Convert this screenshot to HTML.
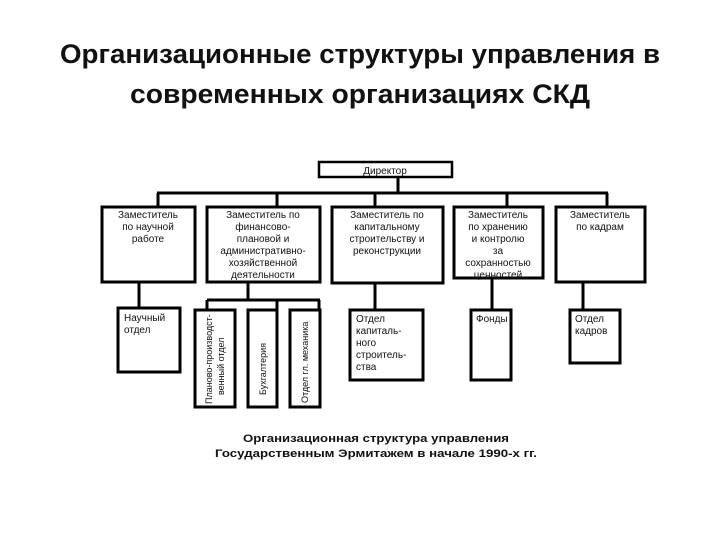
<!DOCTYPE html>
<html><head><meta charset="utf-8"><style>
html,body{margin:0;padding:0;background:#fff;width:720px;height:540px;overflow:hidden}
svg{display:block}
.t{font-family:"Liberation Sans",sans-serif;font-size:10px;fill:#111}
.h{font-family:"Liberation Sans",sans-serif;font-weight:bold;font-size:27px;fill:#111}
.c{font-family:"Liberation Sans",sans-serif;font-weight:bold;font-size:11px;fill:#111}
</style></head><body>
<svg width="720" height="540" viewBox="0 0 720 540">
<text class="h" x="360" y="63" text-anchor="middle" textLength="600" lengthAdjust="spacingAndGlyphs">Организационные структуры управления в</text>
<text class="h" x="360" y="103" text-anchor="middle" textLength="460" lengthAdjust="spacingAndGlyphs">современных организациях СКД</text>
<g fill="none" stroke="#000" stroke-width="3">
<rect x="319" y="162" width="133" height="15" stroke-width="2.5"/>
<line x1="398" y1="177" x2="398" y2="193"/>
<line x1="157" y1="193" x2="608" y2="193"/>
<line x1="158" y1="193" x2="158" y2="207"/>
<line x1="277" y1="193" x2="277" y2="207"/>
<line x1="375" y1="193" x2="375" y2="207"/>
<line x1="507" y1="193" x2="507" y2="207"/>
<line x1="607" y1="193" x2="607" y2="207"/>
<rect x="102" y="207" width="93" height="75"/>
<rect x="207" y="207" width="113" height="75"/>
<rect x="332" y="207" width="111" height="76"/>
<rect x="454" y="207" width="89" height="71"/>
<rect x="556" y="207" width="89" height="75"/>
<line x1="139" y1="282" x2="139" y2="307"/>
<line x1="248" y1="282" x2="248" y2="300"/>
<line x1="207" y1="300" x2="320" y2="300"/>
<line x1="207" y1="300" x2="207" y2="310"/>
<line x1="277" y1="300" x2="277" y2="310"/>
<line x1="319" y1="300" x2="319" y2="310"/>
<line x1="375" y1="283" x2="375" y2="310"/>
<line x1="492" y1="278" x2="492" y2="310"/>
<line x1="583" y1="282" x2="583" y2="310"/>
<rect x="118" y="308" width="62" height="64"/>
<rect x="195" y="310" width="40" height="97"/>
<rect x="248" y="310" width="29" height="97"/>
<rect x="290" y="310" width="30" height="97"/>
<rect x="350" y="310" width="73" height="70"/>
<rect x="471" y="310" width="40" height="70"/>
<rect x="570" y="310" width="50" height="53"/>
</g>
<g class="t" text-anchor="middle">
<text x="385" y="174">Директор</text>
<text x="148" y="218">Заместитель</text><text x="148" y="230">по научной</text><text x="148" y="242">работе</text>
<text x="263" y="218">Заместитель по</text><text x="263" y="230">финансово-</text><text x="263" y="242">плановой и</text><text x="263" y="254">административно-</text><text x="263" y="266">хозяйственной</text><text x="263" y="278">деятельности</text>
<text x="387" y="218">Заместитель по</text><text x="387" y="230">капитальному</text><text x="387" y="242">строительству и</text><text x="387" y="254">реконструкции</text>
<text x="498" y="218">Заместитель</text><text x="498" y="230">по хранению</text><text x="498" y="242">и контролю</text><text x="498" y="254">за</text><text x="498" y="266">сохранностью</text><text x="498" y="278">ценностей</text>
<text x="600" y="218">Заместитель</text><text x="600" y="230">по кадрам</text>
</g>
<g class="t">
<text x="124" y="321">Научный</text><text x="124" y="333">отдел</text>
<text x="356" y="322">Отдел</text><text x="356" y="334">капиталь-</text><text x="356" y="346">ного</text><text x="356" y="358">строитель-</text><text x="356" y="370">ства</text>
<text x="476" y="322">Фонды</text>
<text x="575" y="322">Отдел</text><text x="575" y="334">кадров</text>
<text transform="translate(212,404) rotate(-90)" font-size="9">Планово-производст-</text>
<text transform="translate(224,395) rotate(-90)" font-size="9">венный отдел</text>
<text transform="translate(266,395) rotate(-90)" font-size="9">Бухгалтерия</text>
<text transform="translate(308,403) rotate(-90)" font-size="9">Отдел гл. механика</text>
</g>
<text class="c" x="376" y="442" text-anchor="middle" textLength="266" lengthAdjust="spacingAndGlyphs">Организационная структура управления</text>
<text class="c" x="376" y="457" text-anchor="middle" textLength="322" lengthAdjust="spacingAndGlyphs">Государственным Эрмитажем в начале 1990-х гг.</text>
</svg>
</body></html>
